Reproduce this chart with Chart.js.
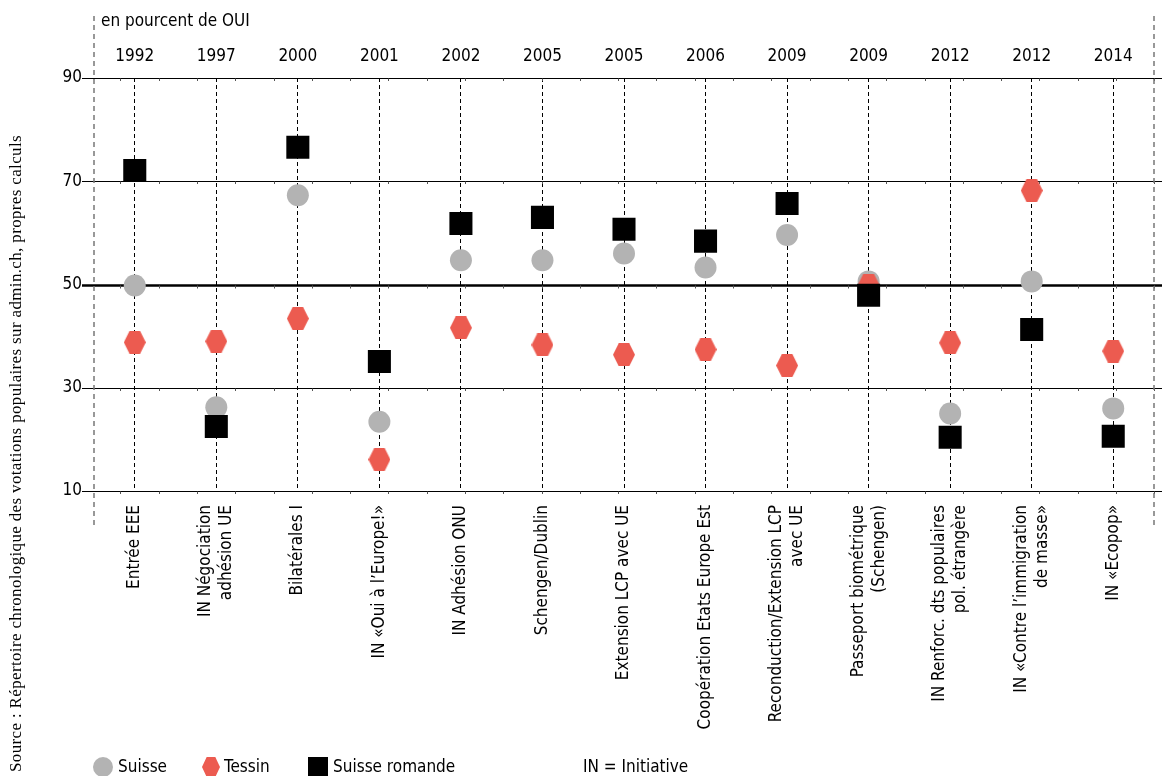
<!DOCTYPE html>
<html>
<head>
<meta charset="utf-8">
<title>Votations européennes : Suisse, Tessin, Suisse romande</title>
<script src="https://cdn.jsdelivr.net/npm/chart.js"></script>
<style>
    html, body { margin: 0; padding: 0; background: #fff; }
</style>
</head>
<body>
<canvas id="graphique" width="1162" height="776"></canvas>
<script>
    // Données (en pourcent de OUI)
    const annees = ['1992', '1997', '2000', '2001', '2002', '2005', '2005', '2006', '2009', '2009', '2012', '2012', '2014'];
    const objets = [
        'Entrée EEE',
        ['IN Négociation', 'adhésion UE'],
        'Bilatérales I',
        'IN «Oui à l’Europe!»',
        'IN Adhésion ONU',
        'Schengen/Dublin',
        'Extension LCP avec UE',
        'Coopération Etats Europe Est',
        ['Reconduction/Extension LCP', 'avec UE'],
        ['Passeport biométrique', '(Schengen)'],
        ['IN Renforc. dts populaires', 'pol. étrangère'],
        ['IN «Contre l’immigration', 'de masse»'],
        'IN «Ecopop»'
    ];
    const suisse  = [49.8, 26.2, 67.3, 23.4, 54.7, 54.7, 56.0, 53.3, 59.6, 50.6, 25.0, 50.6, 26.0];
    const tessin  = [38.8, 39.0, 43.4, 16.1, 41.6, 38.3, 36.4, 37.4, 34.3, 49.9, 38.7, 68.2, 37.1];
    const romande = [72.1, 22.5, 76.6, 35.1, 61.8, 63.0, 60.7, 58.4, 65.7, 47.9, 20.4, 41.3, 20.6];

    const police = "'Liberation Sans Narrow', 'DejaVu Sans Condensed', 'Noto Sans', sans-serif";
    const gris = '#b3b3b3';
    const rouge = '#ec5b50';

    // Hexagone pour le Tessin
    function hexagone(w, h, couleur) {
        const c = document.createElement('canvas');
        c.width = w; c.height = h;
        const g = c.getContext('2d');
        g.fillStyle = couleur;
        g.beginPath();
        g.moveTo(0, h / 2);
        g.lineTo(w * 0.26, 0);
        g.lineTo(w * 0.74, 0);
        g.lineTo(w, h / 2);
        g.lineTo(w * 0.74, h);
        g.lineTo(w * 0.26, h);
        g.closePath();
        g.fill();
        return c;
    }
    const hexTessin = hexagone(22, 23, rouge);
    const hexLegende = hexagone(18, 20, rouge);

    // Lignes, étiquettes, légende et source
    const habillage = {
        id: 'habillage',
        beforeDatasetsDraw(chart) {
            const { ctx, chartArea, scales: { y } } = chart;
            const debut = chartArea.left - 12;
            ctx.save();
            y.ticks.forEach(t => {
                const py = Math.round(y.getPixelForValue(t.value)) + 0.5;
                ctx.strokeStyle = '#000';
                ctx.lineWidth = t.value === 50 ? 2.5 : 1;
                ctx.beginPath();
                ctx.moveTo(debut, py);
                ctx.lineTo(chart.width, py);
                ctx.stroke();
                // petites graduations sous la ligne
                ctx.strokeStyle = '#555';
                ctx.lineWidth = 1;
                ctx.beginPath();
                for (let gx = debut + 38.3; gx < chart.width; gx += 38.3) {
                    ctx.moveTo(Math.round(gx) + 0.5, py);
                    ctx.lineTo(Math.round(gx) + 0.5, py + (t.value === 50 ? 3 : 2.5));
                }
                ctx.stroke();
            });
            ctx.setLineDash([5, 4]);
            ctx.strokeStyle = '#777';
            ctx.lineWidth = 1.5;
            [chartArea.left, chartArea.right].forEach(px => {
                ctx.beginPath();
                ctx.moveTo(Math.round(px), 16);
                ctx.lineTo(Math.round(px), chartArea.bottom + 34);
                ctx.stroke();
            });
            ctx.restore();
        },
        afterDraw(chart) {
            const { ctx, chartArea, scales: { x } } = chart;
            ctx.save();
            ctx.fillStyle = '#000';
            ctx.font = '17px ' + police;

            // titre
            ctx.textAlign = 'left';
            ctx.textBaseline = 'middle';
            ctx.fillText('en pourcent de OUI', chartArea.left + 7, 22);

            // objets de votation, verticaux
            ctx.textAlign = 'right';
            objets.forEach((lab, i) => {
                const lignes = Array.isArray(lab) ? lab : [lab];
                const px = x.getPixelForTick(i);
                lignes.forEach((l, j) => {
                    const cx = px + (j - (lignes.length - 1) / 2) * 21;
                    ctx.save();
                    ctx.translate(cx, chartArea.bottom + 14);
                    ctx.rotate(-Math.PI / 2);
                    ctx.fillText(l, 0, 0);
                    ctx.restore();
                });
            });

            // légende
            const ly = 767;
            ctx.textAlign = 'left';
            ctx.fillStyle = gris;
            ctx.beginPath(); ctx.arc(103, ly, 10, 0, Math.PI * 2); ctx.fill();
            ctx.drawImage(hexLegende, 202, ly - 10);
            ctx.fillStyle = '#000';
            ctx.fillRect(308, ly - 10, 20, 20);
            ctx.fillText('Suisse', 118, ly + 1);
            ctx.fillText('Tessin', 224, ly + 1);
            ctx.fillText('Suisse romande', 333, ly + 1);
            ctx.fillText('IN = Initiative', 583, ly + 1);

            // source
            ctx.font = "17px 'Liberation Serif', 'DejaVu Serif', serif";
            ctx.letterSpacing = '0.35px';
            ctx.translate(17, 772);
            ctx.rotate(-Math.PI / 2);
            ctx.fillText('Source : Répertoire chronologique des votations populaires sur admin.ch, propres calculs', 0, 0);
            ctx.restore();
        }
    };

    // Fixe la hauteur des axes horizontaux, sans marge pour les étiquettes
    function axeHorizontal(s, h) {
        s.height = h;
        s.paddingLeft = 0;
        s.paddingRight = 0;
    }

    const config = {
        type: 'line',
        data: {
            labels: objets,
            datasets: [
                { label: 'Suisse', data: suisse, showLine: false, pointStyle: 'circle', pointRadius: 11,
                  pointHoverRadius: 11, backgroundColor: gris, pointBorderWidth: 0, order: 3 },
                { label: 'Tessin', data: tessin, showLine: false, pointStyle: hexTessin, pointRadius: 11,
                  pointHoverRadius: 11, backgroundColor: rouge, pointBorderWidth: 0, order: 2 },
                { label: 'Suisse romande', data: romande, showLine: false, pointStyle: 'rect', pointRadius: 16.3,
                  pointHoverRadius: 16.3, backgroundColor: '#000', pointBorderWidth: 0, order: 1 }
            ]
        },
        options: {
            responsive: false,
            animation: false,
            devicePixelRatio: 1,
            layout: { autoPadding: false, padding: { left: 0, right: 8, top: 0, bottom: 0 } },
            plugins: {
                legend: { display: false },
                tooltip: { enabled: false }
            },
            scales: {
                x: {
                    type: 'category',
                    position: 'bottom',
                    offset: true,
                    grid: { color: '#000', lineWidth: 1, drawTicks: false },
                    border: { display: false, dash: [4, 3] },
                    ticks: { display: false },
                    afterFit: s => axeHorizontal(s, 285)
                },
                x2: {
                    type: 'category',
                    labels: annees,
                    position: 'top',
                    offset: true,
                    grid: { display: false, drawTicks: false },
                    border: { display: false },
                    ticks: { color: '#000', font: { family: police, size: 17 }, padding: 11,
                             autoSkip: false, maxRotation: 0 },
                    afterFit: s => axeHorizontal(s, 78)
                },
                y: {
                    min: 10,
                    max: 90,
                    grid: { display: false, drawTicks: false },
                    border: { display: false },
                    ticks: { stepSize: 20, color: '#000', font: { family: police, size: 17 }, padding: 12 },
                    afterFit: s => { s.width = 94; }
                }
            }
        },
        plugins: [habillage]
    };

    const graphique = new Chart(document.getElementById('graphique'), config);
</script>
</body>
</html>
